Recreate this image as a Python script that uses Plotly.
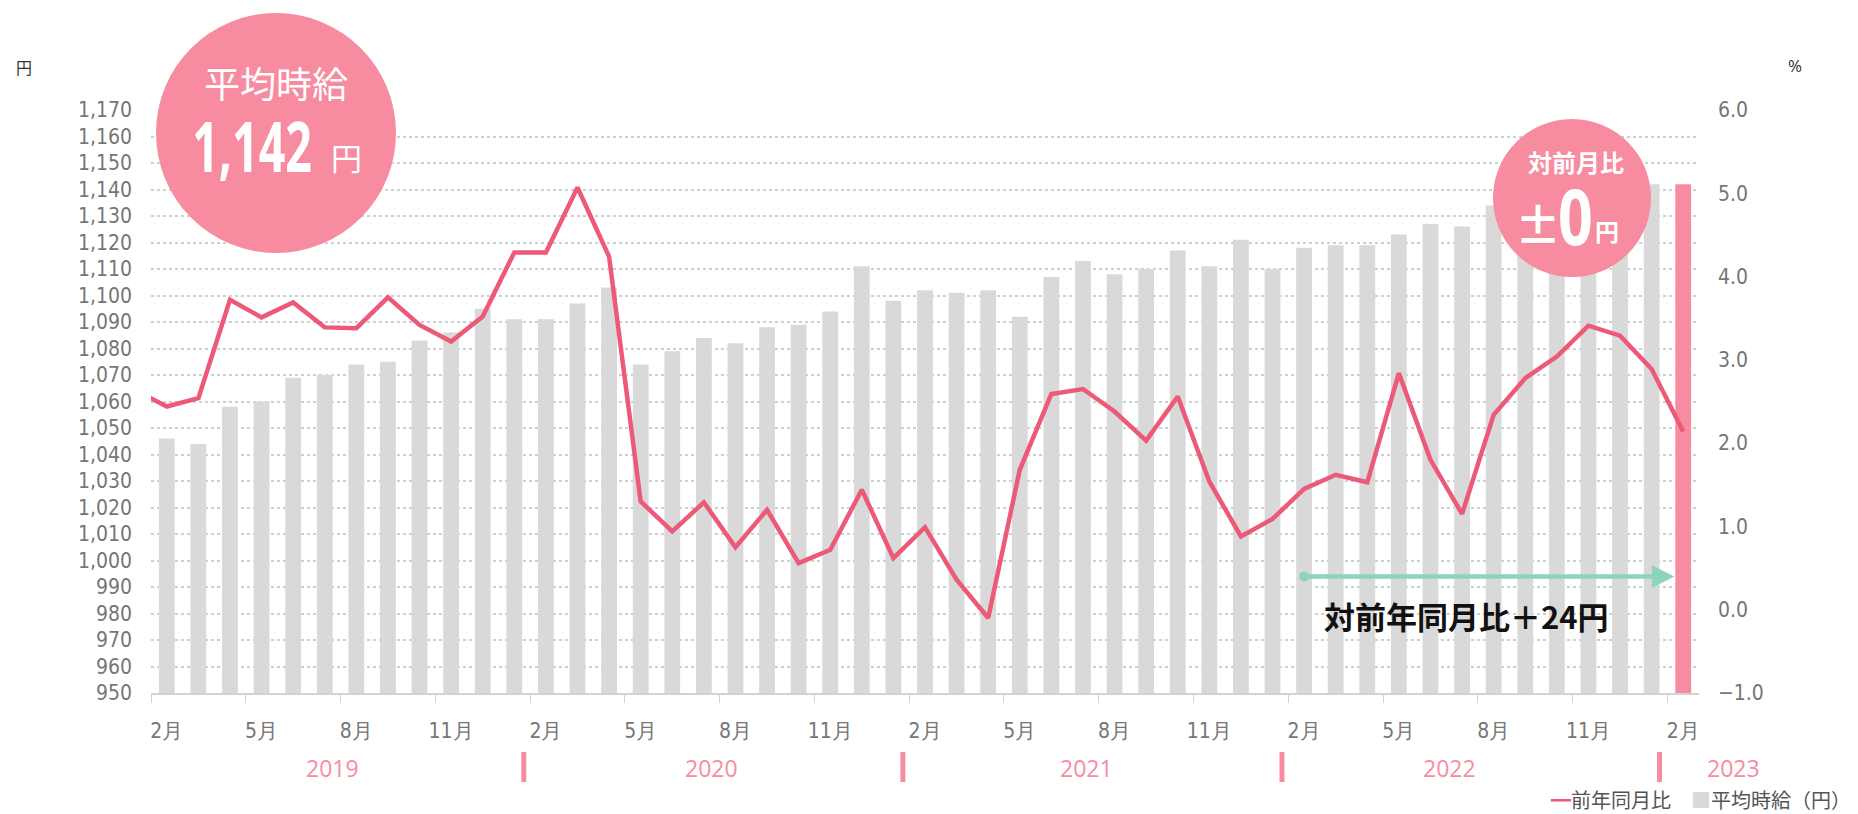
import plotly.graph_objects as go

# ---------------- data ----------------
months = (
    [f"2019年{m}月" for m in range(2, 13)]
    + [f"2020年{m}月" for m in range(1, 13)]
    + [f"2021年{m}月" for m in range(1, 13)]
    + [f"2022年{m}月" for m in range(1, 13)]
    + ["2023年1月", "2023年2月"]
)

# 平均時給（円）
wage = [
    1046, 1044, 1058, 1060, 1069, 1070, 1074, 1075, 1083, 1086, 1095,
    1091, 1091, 1097, 1103, 1074, 1079, 1084, 1082, 1088, 1089, 1094, 1111,
    1098, 1102, 1101, 1102, 1092, 1107, 1113, 1108, 1110, 1117, 1111, 1121,
    1110, 1118, 1119, 1119, 1123, 1127, 1126, 1134, 1141, 1151, 1149, 1158,
    1142, 1142,
]

# 前年同月比（%）, starting one month earlier (2019年1月, clipped at the axis edge)
yoy_months = ["2019年1月"] + months
yoy = [
    2.64, 2.44, 2.54, 3.72, 3.51, 3.69, 3.39, 3.38, 3.75, 3.42, 3.22, 3.52,
    4.29, 4.29, 5.07, 4.24, 1.30, 0.94, 1.29, 0.75, 1.20, 0.56, 0.72, 1.44,
    0.62, 0.99, 0.36, -0.10, 1.68, 2.59, 2.65, 2.38, 2.03, 2.56, 1.54, 0.88,
    1.09, 1.45, 1.62, 1.53, 2.84, 1.80, 1.15, 2.34, 2.78, 3.04, 3.41, 3.29,
    2.89, 2.14,
]

tick_labels = ["2月", "5月", "8月", "11月"] * 4 + ["2月"]
years = ["2019", "2020", "2021", "2022", "2023"]

# ---------------- layout helpers ----------------
W, H = 1858, 814
L, R, T, B = 151, 159, 110, 121
PW, PH = W - L - R, H - T - B
N = len(months)


def pxx(x):
    return (x - L) / PW


def pxy(y):
    return (H - B - y) / PH


def idx_paper(i):
    return (i + 0.5) / N


PINK = "#F78CA0"
LINE = "#EC5A78"
GRAY = "#D9D9D9"
TEAL = "#8DD3BF"
TICK_FONT = dict(family="Liberation Sans Narrow, DejaVu Sans Condensed, Roboto", size=21, color="#767676")
JP = "Noto Sans CJK JP"
NUM = "Noto Sans, Roboto"


def label(text, x, y, font, xanchor="center", yanchor="middle"):
    return dict(text=text, xref="paper", yref="paper", x=x, y=y, showarrow=False,
                xanchor=xanchor, yanchor=yanchor, font=font)


x_bar = list(range(N))
x_line = list(range(-1, N))
bar_colors = [GRAY] * (N - 1) + [PINK]

fig = go.Figure()
fig.add_trace(go.Bar(
    x=x_bar, y=wage, width=0.5, name="平均時給（円）",
    marker=dict(color=bar_colors, line=dict(width=0)),
    customdata=months, hovertemplate="%{customdata}: %{y:,}円<extra></extra>",
))
fig.add_trace(go.Scatter(
    x=x_line, y=yoy, yaxis="y2", mode="lines", name="前年同月比",
    line=dict(color=LINE, width=4.5), customdata=yoy_months,
    hovertemplate="%{customdata}: %{y:.1f}%<extra></extra>",
))

shapes = []
annotations = []

# year separators and labels
sep_pos = [11.3, 23.3, 35.3, 47.25]
for s in sep_pos:
    shapes.append(dict(type="rect", xref="paper", yref="paper",
                       x0=idx_paper(s) - 0.0016, x1=idx_paper(s) + 0.0016,
                       y0=pxy(782), y1=pxy(752), fillcolor=PINK, line=dict(width=0)))
year_pos = [5.25, 17.25, 29.1, 40.6, 49.6]
for yr, p in zip(years, year_pos):
    annotations.append(label(yr, idx_paper(p), pxy(768), dict(family="Open Sans", size=23, color=PINK)))

# big circle: 平均時給
shapes.append(dict(type="circle", xref="paper", yref="paper", xsizemode="pixel", ysizemode="pixel",
                   xanchor=pxx(276), yanchor=pxy(133), x0=-120, x1=120, y0=-120, y1=120,
                   fillcolor="#F78B9F", line=dict(width=0), layer="above"))
annotations += [
    label("平均時給", pxx(276), pxy(82), dict(family=JP, size=36, color="white")),
    label("<b>1,142</b>", pxx(252), pxy(145), dict(family=NUM, size=70, color="white")),
    label("円", pxx(346), pxy(157), dict(family=JP, size=31, color="white")),
]

# small circle: 対前月比
shapes.append(dict(type="circle", xref="paper", yref="paper", xsizemode="pixel", ysizemode="pixel",
                   xanchor=pxx(1572), yanchor=pxy(198), x0=-79, x1=79, y0=-79, y1=79,
                   fillcolor="#F78B9F", line=dict(width=0), layer="above"))
annotations += [
    label("<b>対前月比</b>", pxx(1576), pxy(161), dict(family=JP, size=24, color="white")),
    label("<b>±</b>", pxx(1538), pxy(222), dict(family=JP, size=46, color="white")),
    label("<b>0</b>", pxx(1575), pxy(215), dict(family=NUM, size=78, color="white")),
    label("<b>円</b>", pxx(1607), pxy(231), dict(family=JP, size=24, color="white")),
]

# teal arrow: 対前年同月比
arrow_y = 994
annotations.append(dict(x=47.72, y=arrow_y, xref="x", yref="y", ax=36, ay=arrow_y, axref="x", ayref="y",
                        text="", showarrow=True, arrowhead=2, arrowsize=1, arrowwidth=4.5,
                        arrowcolor=TEAL, standoff=0, startstandoff=0))
shapes.append(dict(type="circle", xref="x", yref="y", xsizemode="pixel", ysizemode="pixel",
                   xanchor=36, yanchor=arrow_y, x0=-5, x1=5, y0=-5, y1=5,
                   fillcolor=TEAL, line=dict(width=0), layer="above"))
annotations.append(label("<b>対前年同月比＋24円</b>", pxx(1466), pxy(615),
                         dict(family=JP, size=31, color="#111111")))

# axis unit labels
annotations += [
    label("円", pxx(24), pxy(67), dict(family=JP, size=16, color="#333333")),
    label("%", pxx(1795), pxy(65), dict(family="Open Sans", size=17, color="#333333")),
]

# legend (as text)
annotations.append(label(
    f"<span style='color:{LINE}'>━</span>前年同月比　<span style='color:{GRAY}'>■</span>平均時給（円）",
    pxx(1853), pxy(799), dict(family=JP, size=20, color="#555555"), xanchor="right"))

fig.update_layout(
    width=W, height=H,
    margin=dict(l=L, r=R, t=T, b=B, pad=0),
    paper_bgcolor="white", plot_bgcolor="white",
    showlegend=False, bargap=0.5,
    xaxis=dict(
        range=[-0.5, N - 0.5], tickmode="array", tickvals=list(range(0, N, 3)), ticktext=tick_labels,
        ticks="", showline=True, linecolor="#D3D3D3", linewidth=2, showgrid=False, zeroline=False,
        tickfont=TICK_FONT, ticklabelstandoff=18,
        minor=dict(tickmode="array", tickvals=[v - 0.5 for v in range(0, N + 1, 3)], ticks="outside",
                   ticklen=8, tickwidth=1, tickcolor="#D3D3D3", showgrid=False),
    ),
    yaxis=dict(
        range=[950, 1170], dtick=10, tick0=950, tickformat=",d", showgrid=True, gridcolor="#CFCFCF",
        griddash="dot", gridwidth=1.5, zeroline=False, ticks="", tickfont=TICK_FONT, ticklabelstandoff=18,
    ),
    yaxis2=dict(
        range=[-1, 6], dtick=1, tick0=-1, tickformat=".1f", overlaying="y", side="right", showgrid=False,
        zeroline=False, ticks="", tickfont=TICK_FONT, ticklabelstandoff=18,
    ),
    shapes=shapes,
    annotations=annotations,
)

# condense the big circle numerals horizontally (the reference uses a condensed display face)
squeeze_js = """
(function(){
  var scale = {'1,142': 0.665, '0': 0.78};
  document.querySelectorAll('text.annotation-text').forEach(function(t){
    var k = scale[t.textContent];
    if (!k) return;
    var b = t.getBBox();
    var cx = b.x + b.width / 2;
    t.setAttribute('transform', 'matrix(' + k + ',0,0,1,' + (cx * (1 - k)) + ',0)');
  });
})();
document.body.style.margin='0';
document.body.style.overflow='hidden';
"""

fig.write_html("out.html", config={"displayModeBar": False}, post_script=squeeze_js)
